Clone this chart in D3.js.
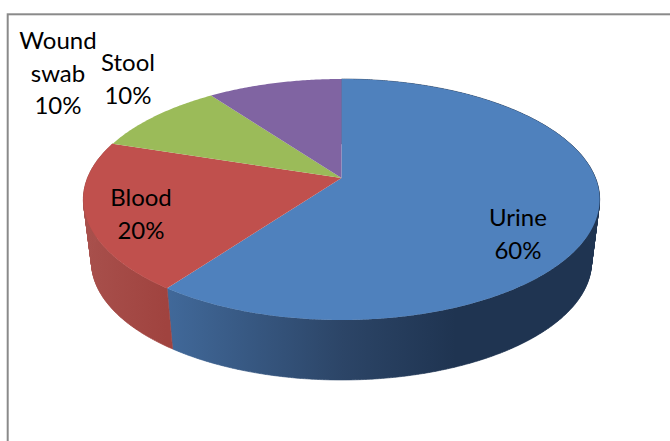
<!DOCTYPE html>
<html>
<head>
<meta charset="utf-8">
<script src="https://cdn.jsdelivr.net/npm/d3@7"></script>
<style>
  html, body { margin: 0; padding: 0; background: #fff; overflow: hidden; }
  svg { display: block; }
</style>
</head>
<body>
<div id="chart"></div>
<script>
// Chart data
var categories = ["Urine", "Blood", "Wound swab", "Stool"];
var percents = [60, 20, 10, 10];
var sliceColors = ["#4f81bd", "#c0504d", "#9bbb59", "#8064a2"];

var attrs = {
  svgWidth: 670,
  svgHeight: 441,
  centerX: 341.5,
  tilt: -0.178,      // perspective of the tilted disc
  topRadius: 254,
  topY: [79, 178, 320],     // far rim, apex, near rim
  baseRadius: 246,
  baseY: [144, 240, 380],
  fontSize: 24,
  lineHeight: 32.5
};

// Each face is a circle seen in perspective: the apex is not the ellipse center
function projector(radius, ys) {
  var c = attrs.tilt;
  var sum = ys[2] * (1 + c);
  var diff = ys[0] * (1 - c);
  var b = (sum + diff) / 2;
  var a = (sum - diff) / 2;
  return function (angle) {
    var u = Math.sin(angle);
    var v = -Math.cos(angle);
    var w = 1 + c * v;
    return [attrs.centerX + radius * u / w, (a * v + b) / w];
  };
}

var topFace = projector(attrs.topRadius, attrs.topY);
var baseFace = projector(attrs.baseRadius, attrs.baseY);

var pie = d3.pie().sort(null).value(function (d) { return d; });
var slices = pie(percents);
var line = d3.line();

function rim(start, end, face) {
  var steps = Math.max(2, Math.ceil((end - start) / 0.01));
  return d3.range(steps + 1).map(function (i) {
    return face(start + (end - start) * i / steps);
  });
}

var svg = d3.select("#chart").append("svg")
  .attr("width", attrs.svgWidth)
  .attr("height", attrs.svgHeight)
  .attr("font-family", "Lato");

// Frame runs off the right and bottom of the picture
svg.append("rect")
  .attr("x", 7.7)
  .attr("y", 14.3)
  .attr("width", 700)
  .attr("height", 460)
  .attr("fill", "#fff")
  .attr("stroke", "#8a8a8a")
  .attr("stroke-width", 2);

var defs = svg.append("defs");

function wallGradient(id, stops) {
  var gradient = defs.append("linearGradient")
    .attr("id", id)
    .attr("gradientUnits", "userSpaceOnUse")
    .attr("x1", 84).attr("x2", 600)
    .attr("y1", 0).attr("y2", 0);
  stops.forEach(function (s) {
    gradient.append("stop").attr("offset", s[0]).attr("stop-color", s[1]);
  });
  return "url(#" + id + ")";
}

var wallFills = [
  wallGradient("wall-urine", [[0.16, "#41699a"], [0.5, "#2c4567"], [0.72, "#1f3451"], [1, "#1f3451"]]),
  wallGradient("wall-blood", [[0, "#a8504c"], [0.16, "#a0433f"]])
];

// Side walls, only the two front slices show one
var walls = svg.append("g").attr("class", "walls");
slices.slice(0, 2).forEach(function (d, i) {
  var strip = rim(d.startAngle, d.endAngle, topFace);
  var base = rim(d.startAngle, d.endAngle, baseFace);
  // every small quad is filled so the sweep follows the outline between both rims
  var path = "";
  for (var k = 0; k < strip.length - 1; k++) {
    path += line([strip[k], strip[k + 1], base[k + 1], base[k]]) + "Z";
  }
  walls.append("path")
    .attr("d", path)
    .attr("fill", wallFills[i])
    .attr("stroke", wallFills[i])
    .attr("stroke-width", 0.6);
});

// Top face
svg.append("g").attr("class", "slices")
  .selectAll("path")
  .data(slices)
  .enter()
  .append("path")
  .attr("d", function (d) {
    return line([[attrs.centerX, attrs.topY[1]]].concat(rim(d.startAngle, d.endAngle, topFace))) + "Z";
  })
  .attr("fill", function (d, i) { return sliceColors[i]; });

// Labels, placed by hand like the originals
var labelSpots = [
  { x: 518, y: 218 },
  { x: 141, y: 198 },
  { x: 58, y: 41 },
  { x: 128, y: 63 }
];

var labels = svg.append("g").attr("class", "labels")
  .selectAll("text")
  .data(slices)
  .enter()
  .append("text")
  .attr("text-anchor", "middle")
  .attr("font-size", attrs.fontSize)
  .attr("fill", "#000");

labels.each(function (d, i) {
  var text = d3.select(this);
  var lines = categories[i].split(" ").concat(percents[i] + "%");
  lines.forEach(function (t, k) {
    text.append("tspan")
      .attr("x", labelSpots[i].x)
      .attr("y", labelSpots[i].y + k * attrs.lineHeight)
      .attr("dy", "0.35em")
      .text(t);
  });
});
</script>
</body>
</html>
